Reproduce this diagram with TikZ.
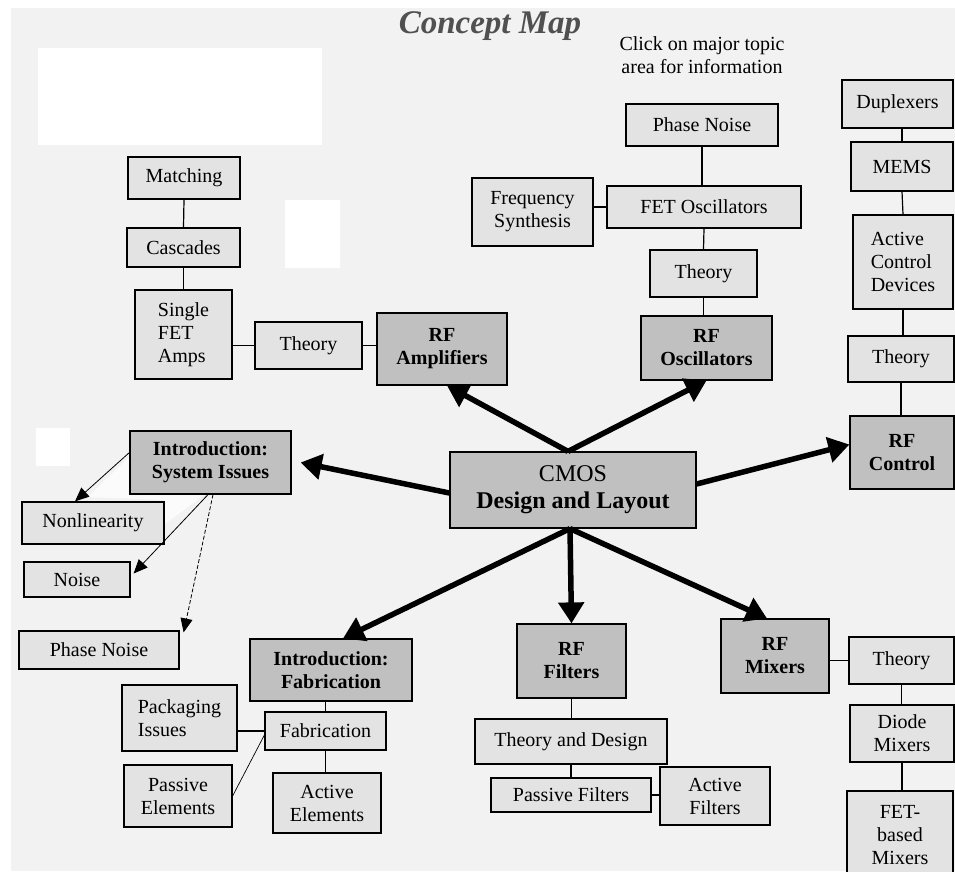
\documentclass[tikz,border=0pt]{standalone}
\usepackage{fontspec}
\setmainfont{Liberation Serif}
\usetikzlibrary{arrows.meta}
\definecolor{boxlight}{HTML}{E3E3E3}
\definecolor{boxdark}{HTML}{C0C0C0}
\definecolor{paper}{HTML}{F2F2F2}
\definecolor{titlegray}{HTML}{505050}

\begin{document}
\begin{tikzpicture}
    [
      x=1pt, y=-1pt,
      every node/.style = {shape=rectangle, draw, line width=1.2pt, inner sep=2pt, align=center, font=\fontsize{20}{23}\selectfont},
      sz/.style 2 args = {minimum width=#1pt, minimum height=#2pt},
      lt/.style = {fill=boxlight},
      dk/.style = {fill=boxdark, font=\fontsize{20}{23}\selectfont\bfseries},
      link/.style = {line width=1.2pt},
      big/.style = {line width=5.5pt, -{Triangle[length=21pt,width=25pt]}},
      slim/.style = {line width=0.8pt, -{Triangle[length=14pt,width=12pt]}}
    ]

    \useasboundingbox (0,0) rectangle (955,871);
    \fill[white] (0,0) rectangle (955,871);
    \fill[paper] (11,8) rectangle (955,871);
    \fill[white] (38,48) rectangle (322,145);
    \fill[white] (285,200) rectangle (340,268);
    \fill[white] (36,428) rectangle (70,466);
    \fill[white!70!paper] (131,455) -- (88,497) -- (164,500) -- (164,525) -- (205,494) -- (130,494) -- cycle;

    \node[draw=none, text=titlegray, font=\fontsize{33}{36}\selectfont\bfseries\itshape] (ttl) at (490,26) {Concept Map};
    \node[draw=none] (clk) at (702,55) {Click on major topic\\area for information};

    \node[lt, sz={112}{42}] (mat) at (184,178) {Matching};
    \node[lt, sz={113}{39}] (cas) at (183.5,247.5) {Cascades};
    \node[lt, sz={97}{89}, align=left] (sfa) at (183.5,334.5) {Single\\FET\\Amps};
    \node[lt, sz={107}{47}] (tha) at (308.5,345.5) {Theory};
    \node[dk, sz={130}{72}] (rfa) at (442,349) {RF\\Amplifiers};

    \node[lt, sz={152}{42}] (pno) at (702,125) {Phase Noise};
    \node[lt, sz={121}{68}] (fsy) at (532.5,212) {Frequency\\Synthesis};
    \node[lt, sz={194}{42}] (fos) at (704,207) {FET Oscillators};
    \node[lt, sz={107}{47}] (tho) at (703.5,273.5) {Theory};
    \node[dk, sz={131}{64}] (rfo) at (706.5,348) {RF\\Oscillators};

    \node[lt, sz={111}{48}] (dup) at (897.5,104) {Duplexers};
    \node[lt, sz={102}{49}] (mem) at (902,166.5) {MEMS};
    \node[lt, sz={100}{94}, align=left] (acd) at (903,262) {Active\\Control\\Devices};
    \node[lt, sz={106}{46}] (thc) at (901,359) {Theory};
    \node[dk, sz={104}{73}] (rfc) at (902,452.5) {RF\\Control};

    \node[fill=boxdark, sz={246}{76}, font=\fontsize{24}{27}\selectfont] (cmos) at (573,490) {CMOS\\\textbf{Design and Layout}};

    \node[dk, sz={161}{63}] (isi) at (210.5,462.5) {Introduction:\\System Issues};
    \node[lt, sz={142}{42}] (nln) at (93,523) {Nonlinearity};
    \node[lt, sz={106}{35}] (noi) at (77,579.5) {Noise};
    \node[lt, sz={160}{38}] (psn) at (99,650) {Phase Noise};

    \node[dk, sz={162}{62}] (ifa) at (331,670) {Introduction:\\Fabrication};
    \node[lt, sz={115}{66}, align=left] (pki) at (179.5,718) {Packaging\\Issues};
    \node[lt, sz={121}{38}] (fab) at (325.5,731) {Fabrication};
    \node[lt, sz={108}{62}] (pel) at (178,796) {Passive\\Elements};
    \node[lt, sz={108}{60}] (ael) at (327,803) {Active\\Elements};

    \node[dk, sz={109}{74}] (rff) at (571.5,661) {RF\\Filters};
    \node[lt, sz={192}{45}] (tad) at (571,741.5) {Theory and Design};
    \node[lt, sz={160}{34}] (pfl) at (571,795) {Passive Filters};
    \node[lt, sz={110}{58}] (afl) at (715,796) {Active\\Filters};

    \node[dk, sz={108}{74}] (rfm) at (775,656) {RF\\Mixers};
    \node[lt, sz={105}{47}] (thm) at (901.5,660.5) {Theory};
    \node[lt, sz={104}{57}] (dmx) at (902,733.5) {Diode\\Mixers};
    \node[lt, sz={106}{89}] (fbm) at (900,835.5) {FET-\\based\\Mixers};

    \draw[link] (mat.south) -- (cas.north);
    \draw[link] (cas.south) -- (sfa.north);
    \draw[link] (tha.west) -- (tha.west -| sfa.east);
    \draw[link] (tha.east) -- (tha.east -| rfa.west);
    \draw[link] (pno.south) -- (pno.south |- fos.north);
    \draw[link] (fos.west) -- (fos.west -| fsy.east);
    \draw[link] (fos.south) -- (tho.north);
    \draw[link] (tho.south) -- (tho.south |- rfo.north);
    \draw[link] (mem.north) -- (mem.north |- dup.south);
    \draw[link] (mem.south) -- (acd.north);
    \draw[link] (acd.south) -- (acd.south |- thc.north);
    \draw[link] (thc.south) -- (thc.south |- rfc.north);
    \draw[link] (thm.west) -- (thm.west -| rfm.east);
    \draw[link] (thm.south) -- (thm.south |- dmx.north);
    \draw[link] (dmx.south) -- (dmx.south |- fbm.north);
    \draw[link] (rff.south) -- (rff.south |- tad.north);
    \draw[link] (tad.south) -- (tad.south |- pfl.north);
    \draw[link] (pfl.east) -- (pfl.east -| afl.west);
    \draw[link] (fab.north) -- (fab.north |- ifa.south);
    \draw[link] (fab.south) -- (fab.south |- ael.north);
    \draw[link] (fab.west) -- (fab.west -| pki.east);
    \draw[line width=0.7pt] (pel.east) -- ([yshift=-4pt]fab.west);

    \draw[big] ([xshift=-5pt]cmos.north) -- ([xshift=5pt]rfa.south);
    \draw[big] ([xshift=-5pt]cmos.north) -- (rfo.south);
    \draw[big] ([yshift=6pt]cmos.east) -- ([yshift=8pt]rfc.west);
    \draw[big] ([yshift=-3pt]cmos.west) -- ([xshift=9pt]isi.east);
    \draw[big] ([xshift=-3pt]cmos.south) -- (rff.north);
    \draw[big] ([xshift=-3pt]cmos.south) -- ([xshift=-8pt]rfm.north);
    \draw[big] ([xshift=-3pt]cmos.south) -- ([xshift=12pt]ifa.north);

    \draw[slim] ([yshift=10pt]isi.west) -- ([xshift=-18pt]nln.north);
    \draw[slim] ([xshift=-2.5pt]isi.south) -- ([xshift=3pt,yshift=6pt]noi.east);
    \draw[slim, dash pattern=on 4pt off 2pt] ([xshift=2.5pt]isi.south) -- ([xshift=4pt,yshift=-2pt]psn.north east);
\end{tikzpicture}
\end{document}
